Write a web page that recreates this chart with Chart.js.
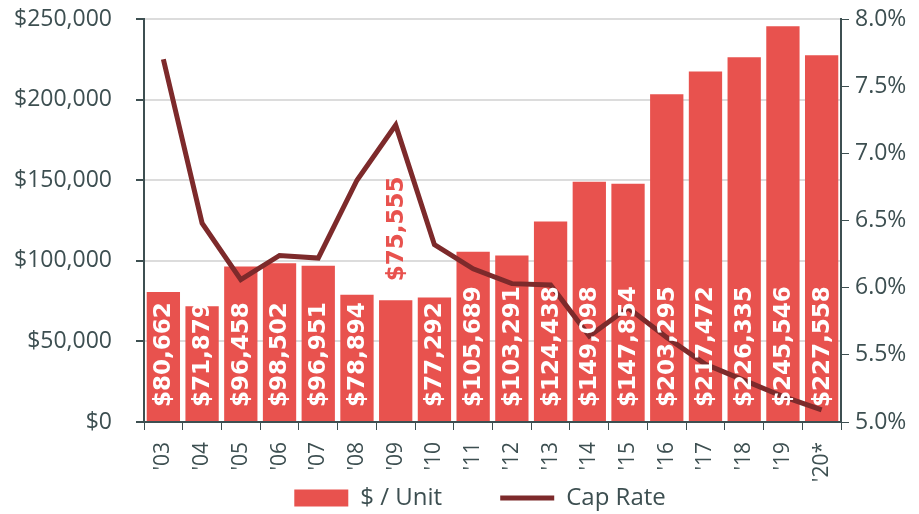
<!DOCTYPE html>
<html>
<head>
<meta charset="utf-8">
<script src="https://cdn.jsdelivr.net/npm/chart.js@4"></script>
<style>
  body { margin: 0; background: #fff; }
  #wrap { width: 919px; height: 514px; }
</style>
</head>
<body>
<div id="wrap"><canvas id="grafico"></canvas></div>
<script>
// dados do gráfico
const anos = ["'03", "'04", "'05", "'06", "'07", "'08", "'09", "'10", "'11", "'12",
              "'13", "'14", "'15", "'16", "'17", "'18", "'19", "'20*"];
const precoUnidade = [80662, 71879, 96458, 98502, 96951, 78894, 75555, 77292, 105689, 103291,
                      124438, 149098, 147854, 203295, 217472, 226335, 245546, 227558];
const capRate = [7.70, 6.48, 6.06, 6.24, 6.22, 6.80, 7.21, 6.32, 6.14, 6.03,
                 6.02, 5.64, 5.85, 5.63, 5.43, 5.31, 5.19, 5.09];
const ticksDolar = [0, 50000, 100000, 150000, 200000, 250000];
const ticksCap = [5.0, 5.5, 6.0, 6.5, 7.0, 7.5, 8.0];
const rotulosFora = ["'09"]; // rótulo acima da barra

const corBarra = "#e8524e";
const corLinha = "#7d2a2b";
const corTexto = "#3d4f51";
const fonte = "'Open Sans', sans-serif";

function toUSD(v) {
    return "$" + v.toLocaleString("en-US");
}

// rótulos verticais dentro das barras
const rotulosBarras = {
    id: "rotulosBarras",
    afterDatasetsDraw(chart) {
        const ctx = chart.ctx;
        const meta = chart.getDatasetMeta(1);
        const base = chart.scales.y.getPixelForValue(0);
        ctx.save();
        ctx.font = "bold 23px 'DejaVu Sans', sans-serif";
        ctx.textBaseline = "middle";
        ctx.textAlign = "left";
        meta.data.forEach((barra, i) => {
            const txt = toUSD(precoUnidade[i]);
            let inicio = base - 15;
            ctx.fillStyle = "#ffffff";
            if (rotulosFora.includes(anos[i])) {
                inicio = barra.y - 19;
                ctx.fillStyle = corBarra;
            }
            ctx.save();
            ctx.translate(barra.x + 1, inicio);
            ctx.rotate(-Math.PI / 2);
            ctx.fillText(txt, 0, 0);
            ctx.restore();
        });
        ctx.restore();
    }
};

new Chart(document.getElementById("grafico"), {
    type: "bar",
    data: {
        labels: anos,
        datasets: [
            {
                type: "line",
                label: "Cap Rate",
                data: capRate,
                yAxisID: "y2",
                borderColor: corLinha,
                backgroundColor: corLinha,
                borderWidth: 5,
                pointRadius: 0,
                pointStyle: "line",
                tension: 0,
                order: 0
            },
            {
                label: "$ / Unit",
                data: precoUnidade,
                yAxisID: "y",
                backgroundColor: corBarra,
                borderWidth: 0,
                pointStyle: "rect",
                barPercentage: 0.86,
                categoryPercentage: 1,
                order: 1
            }
        ]
    },
    options: {
        responsive: true,
        maintainAspectRatio: false,
        animation: false,
        layout: { padding: { top: 10, bottom: -6 } },
        plugins: {
            legend: {
                position: "bottom",
                fullSize: false,
                reverse: true,
                labels: {
                    usePointStyle: true,
                    pointStyleWidth: 54,
                    boxHeight: 17,
                    color: corTexto,
                    padding: 2,
                    font: { family: fonte, size: 24 },
                    generateLabels: chart => {
                        const itens = Chart.defaults.plugins.legend.labels.generateLabels(chart);
                        // espaço extra entre os itens
                        itens.forEach(it => {
                            if (it.datasetIndex === 1) it.text = it.text + "         ";
                            else it.text = it.text + "    ";
                        });
                        return itens;
                    }
                }
            },
            tooltip: { enabled: false }
        },
        scales: {
            x: {
                grid: { drawOnChartArea: false, tickLength: 8, color: corTexto, offset: true },
                border: { color: corTexto, width: 2 },
                ticks: {
                    color: corTexto,
                    minRotation: 90,
                    maxRotation: 90,
                    autoSkip: false,
                    padding: 12,
                    font: { family: fonte, size: 21 }
                },
                afterFit: s => { s.height = 62; }
            },
            y: {
                position: "left",
                min: 0,
                max: 250000,
                afterBuildTicks: s => { s.ticks = ticksDolar.map(v => ({ value: v })); },
                grid: { color: "#dcdcdc", lineWidth: 2, tickLength: 8, tickColor: corTexto },
                border: { color: corTexto, width: 2 },
                ticks: {
                    color: corTexto,
                    padding: 24,
                    font: { family: fonte, size: 23 },
                    callback: v => toUSD(v)
                },
                afterFit: s => { s.width = 144; s.paddingTop = 19; s.paddingBottom = 19; }
            },
            y2: {
                position: "right",
                min: 5,
                max: 8,
                afterBuildTicks: s => { s.ticks = ticksCap.map(v => ({ value: v })); },
                grid: { drawOnChartArea: false, tickLength: 8, color: corTexto },
                border: { color: corTexto, width: 2 },
                ticks: {
                    color: corTexto,
                    padding: 6,
                    font: { family: fonte, size: 23 },
                    callback: v => v.toFixed(1) + "%"
                },
                afterFit: s => { s.width = 78; s.paddingTop = 19; s.paddingBottom = 19; }
            }
        }
    },
    plugins: [rotulosBarras]
});
</script>
</body>
</html>
